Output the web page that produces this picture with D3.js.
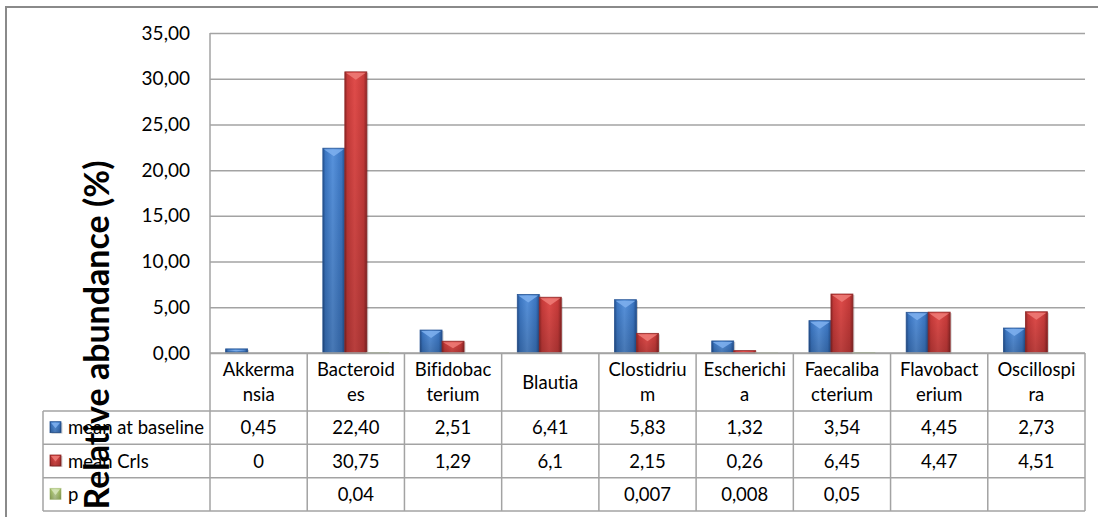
<!DOCTYPE html>
<html>
<head>
<meta charset="utf-8">
<script src="https://cdn.jsdelivr.net/npm/d3@7"></script>
<style>
  body { margin: 0; background: #fff; }
  text { font-family: Lato, "Liberation Sans", sans-serif; fill: #000; font-variant-ligatures: none; }
</style>
</head>
<body>
<svg id="chart" width="1098" height="517"></svg>
<script>
// Genus names, split where the table cell wraps them
const categoryLines = [
  ["Akkerma", "nsia"], ["Bacteroid", "es"], ["Bifidobac", "terium"], ["Blautia"],
  ["Clostidriu", "m"], ["Escherichi", "a"], ["Faecaliba", "cterium"],
  ["Flavobact", "erium"], ["Oscillospi", "ra"]
];
const categories = categoryLines.map(l => l.join(""));
const seriesNames = ["mean at baseline", "mean Crls", "p"];
const baselineMeans = [0.45, 22.40, 2.51, 6.41, 5.83, 1.32, 3.54, 4.45, 2.73];
const crlsMeans = [0, 30.75, 1.29, 6.1, 2.15, 0.26, 6.45, 4.47, 4.51];
const pValues = [null, 0.04, null, null, 0.007, 0.008, 0.05, null, null];
const yTicks = [0, 5, 10, 15, 20, 25, 30, 35];
const yLabel = "Relative abundance (%)";

const seriesValues = [baselineMeans, crlsMeans, pValues];

const W = 1098, H = 517;
const plot = { left: 210, right: 1085, top: 33, bottom: 353 };
const headerBottom = 411;
const rowH = (511 - headerBottom) / 3;
const legendLeft = 43;
const gridColor = "#a3a3a3";

const comma = d3.formatLocale({ decimal: ",", thousands: ".", grouping: [3], currency: ["", ""] });
const fmt2 = comma.format(".2f");
const fmtRaw = comma.format("");
const cellFormats = [fmt2, fmtRaw, fmtRaw];

const palettes = [
  { light: "#5792dc", mid: "#3c77c3", dark: "#23508f", bevel: "#7fb0ee", edge: "#2a5796" },
  { light: "#e04c4a", mid: "#c83b3a", dark: "#8f2626", bevel: "#ee7c78", edge: "#922a29" },
  { light: "#c6d99f", mid: "#a8c46a", dark: "#7e9a43", bevel: "#d8e6bc", edge: "#b4c98c" }
];

const svg = d3.select("#chart");
svg.append("rect").attr("width", W).attr("height", H).attr("fill", "#fff");

const defs = svg.append("defs");
palettes.forEach((p, i) => {
  const g = defs.append("linearGradient").attr("id", "bar" + i)
    .attr("x1", 0).attr("x2", 1).attr("y1", 0).attr("y2", 0);
  [[0, p.dark], [0.12, p.mid], [0.45, p.light], [0.85, p.mid], [1, p.dark]]
    .forEach(([o, c]) => g.append("stop").attr("offset", o).attr("stop-color", c));
});
const shade = defs.append("linearGradient").attr("id", "shade")
  .attr("x1", 0).attr("x2", 0).attr("y1", 0).attr("y2", 1);
shade.append("stop").attr("offset", 0).attr("stop-color", "#000").attr("stop-opacity", 0);
shade.append("stop").attr("offset", 1).attr("stop-color", "#000").attr("stop-opacity", 0.18);

// outer chart frame
svg.append("rect").attr("x", 6).attr("y", 7).attr("width", W + 10).attr("height", H + 10)
  .attr("fill", "none").attr("stroke", "#8a8a8a").attr("stroke-width", 2);

const y = d3.scaleLinear().domain([0, 35]).range([plot.bottom, plot.top]);
const x0 = d3.scaleBand().domain(categories).range([plot.left, plot.right]);
const x1 = d3.scaleBand().domain(seriesNames).range([0, x0.bandwidth()]).paddingOuter(0.71);

// gridlines and value axis
const yAxis = d3.axisLeft(y).tickValues(yTicks).tickSize(-(plot.right - plot.left))
  .tickPadding(20).tickFormat(fmt2);
const ga = svg.append("g").attr("transform", `translate(${plot.left},0)`).call(yAxis);
ga.select(".domain").remove();
ga.selectAll(".tick line").attr("stroke", gridColor).attr("stroke-width", 1.5);
ga.selectAll(".tick text").attr("font-size", 19).attr("fill", "#1a1a1a")
  .style("font-family", "Lato, 'Liberation Sans', sans-serif");

// bars
function drawBar(g, bx, by, bw, bh, si) {
  const p = palettes[si];
  g.append("rect").attr("x", bx + 1.5).attr("y", by + 1).attr("width", bw).attr("height", bh)
    .attr("fill", "#000").attr("opacity", si === 2 ? 0 : 0.18);
  g.append("rect").attr("x", bx).attr("y", by).attr("width", bw).attr("height", bh)
    .attr("fill", `url(#bar${si})`).attr("stroke", p.edge).attr("stroke-width", 0.8);
  if (bh > 3) {
    g.append("rect").attr("x", bx).attr("y", by).attr("width", bw).attr("height", bh)
      .attr("fill", "url(#shade)");
    const d = Math.min(8, bh * 0.6);
    g.append("path")
      .attr("d", `M${bx + 1},${by + 1}L${bx + bw - 1},${by + 1}L${bx + bw / 2},${by + d}Z`)
      .attr("fill", p.bevel).attr("opacity", 0.85);
  }
}

const barsG = svg.append("g");
categories.forEach((c, ci) => {
  seriesNames.forEach((s, si) => {
    const v = seriesValues[si][ci];
    if (v == null || v <= 0) return;
    const by = y(v);
    drawBar(barsG, x0(c) + x1(s), by, x1.bandwidth(), y(0) - by, si);
  });
});

// data table lines
const lines = svg.append("g").attr("stroke", gridColor).attr("stroke-width", 1.5);
lines.append("line").attr("x1", plot.left).attr("x2", plot.left).attr("y1", plot.top).attr("y2", 511);
lines.append("line").attr("x1", plot.left).attr("x2", plot.right).attr("y1", plot.bottom).attr("y2", plot.bottom);
categories.forEach(c => {
  const xr = x0(c) + x0.bandwidth();
  lines.append("line").attr("x1", xr).attr("x2", xr).attr("y1", plot.bottom).attr("y2", 511);
});
for (let r = 0; r <= 3; r++) {
  const yy = headerBottom + r * rowH;
  lines.append("line").attr("x1", legendLeft).attr("x2", plot.right).attr("y1", yy).attr("y2", yy);
}
lines.append("line").attr("x1", legendLeft).attr("x2", legendLeft).attr("y1", headerBottom).attr("y2", 511);

// category header cells
const hdr = svg.append("g").attr("font-size", 18.5).attr("text-anchor", "middle").attr("fill", "#1a1a1a");
categoryLines.forEach((ls, ci) => {
  const cx = x0(categories[ci]) + x0.bandwidth() / 2;
  const t = hdr.append("text").attr("x", cx);
  if (ls.length === 1) {
    t.attr("y", 389).text(ls[0]);
  } else {
    ls.forEach((l, li) => t.append("tspan").attr("x", cx).attr("y", 376 + li * 25).text(l));
  }
});

// value rows with legend keys
const rowsG = svg.append("g").attr("font-size", 18.5).attr("fill", "#1a1a1a");
seriesNames.forEach((s, si) => {
  const cy = headerBottom + si * rowH + rowH / 2;
  drawBar(rowsG, 50, cy - 6, 11, 11, si);
  rowsG.append("text").attr("x", 68).attr("y", cy + 6.5).text(s);
  categories.forEach((c, ci) => {
    const v = seriesValues[si][ci];
    if (v == null) return;
    rowsG.append("text").attr("x", x0(c) + x0.bandwidth() / 2).attr("y", cy + 6.5)
      .attr("text-anchor", "middle").text(cellFormats[si](v));
  });
});

// value axis title, drawn over the legend column
svg.append("text")
  .attr("transform", "translate(109,335) rotate(-90)")
  .attr("text-anchor", "middle").attr("font-size", 34).attr("font-weight", 700)
  .text(yLabel);
</script>
</body>
</html>
